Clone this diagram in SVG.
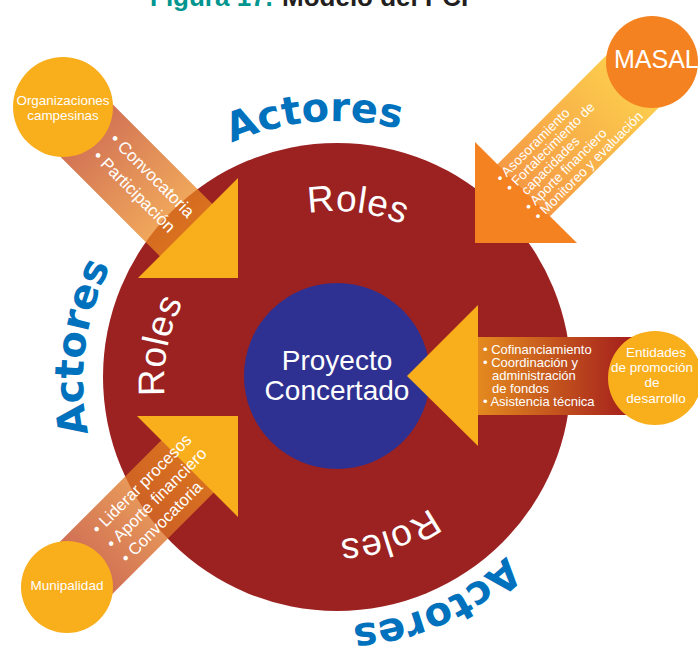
<svg xmlns="http://www.w3.org/2000/svg" width="698" height="648" viewBox="0 0 698 648">
<style>
.w{fill:#fff;font-family:"Liberation Sans",Arial,sans-serif}
.act{fill:#0071BC;font-family:"DejaVu Sans",sans-serif;font-weight:bold;font-size:40px}
.rol{fill:#fff;font-family:"Liberation Sans",Arial,sans-serif;font-size:37px;letter-spacing:0.5px}
.tri{fill:#F9AE1C}
.node{fill:#F9AE1C}
</style>
<defs>
<linearGradient id="gDiag" gradientUnits="userSpaceOnUse" x1="0" y1="0" x2="175" y2="0">
<stop offset="0" stop-color="#BE4636" stop-opacity="0.85"/>
<stop offset="1" stop-color="#F0901E" stop-opacity="0.72"/>
</linearGradient>
<linearGradient id="gMasal" gradientUnits="userSpaceOnUse" x1="0" y1="0" x2="182" y2="0">
<stop offset="0" stop-color="#FDD64E"/>
<stop offset="1" stop-color="#F59A45"/>
</linearGradient>
<linearGradient id="gRight" gradientUnits="userSpaceOnUse" x1="478" y1="0" x2="640" y2="0">
<stop offset="0" stop-color="#E48A1F"/>
<stop offset="1" stop-color="#A0181C"/>
</linearGradient>
<path id="pRolT" d="M 200.2 278.7 A 170 170 0 0 1 492.5 314.6"/>
<path id="pRolL" d="M 222.7 510.4 A 172 172 0 0 1 280.6 218.2"/>
<path id="pRolB" d="M 491.1 411.1 A 158 158 0 0 1 232.3 500.2"/>
<path id="pActT" d="M 100.9 269.9 A 260 260 0 0 1 549.7 233.0"/>
<path id="pActL" d="M 182.0 581.7 A 253 253 0 0 1 239.2 147.3"/>
<path id="pActB" d="M 578.7 406.5 A 244 244 0 0 1 192.6 578.4"/>
</defs>

<g id="title" font-family="'Liberation Sans',Arial,sans-serif" font-weight="bold" font-size="26">
<text x="150" y="6" fill="#00958F">Figura 17.</text>
<text x="282" y="6" fill="#231F20">Modelo del PCI</text>
</g>

<g id="ring">
<circle cx="337" cy="377" r="234" fill="#9B2221"/>
</g>

<g id="core">
<circle cx="337" cy="376" r="93" fill="#2E3192"/>
<text class="w" x="337" y="370" font-size="28" text-anchor="middle">Proyecto</text>
<text class="w" x="337" y="400" font-size="28" text-anchor="middle">Concertado</text>
</g>

<g id="connectors">
<g id="conn-org" transform="translate(63,107) rotate(45)">
<rect x="0" y="-37" width="175" height="74" fill="url(#gDiag)"/>
</g>
<polygon class="tri" points="238,178 238,278 138,278"/>
<g transform="translate(63,107) rotate(45)">
<text class="w" x="56" y="-9" font-size="17">• Convocatoria</text>
<text class="w" x="56" y="15" font-size="17">• Participación</text>
</g>

<g id="conn-mun" transform="translate(67,587) rotate(-45)">
<rect x="0" y="-37" width="172" height="74" fill="url(#gDiag)"/>
</g>
<polygon class="tri" points="137,416 238,416 238,517"/>
<g transform="translate(67,587) rotate(-45)">
<text class="w" x="59" y="-14.5" font-size="16.5">• Liderar procesos</text>
<text class="w" x="59" y="6" font-size="16.5">• Aporte financiero</text>
<text class="w" x="59" y="26.5" font-size="16.5">• Convocatoria</text>
</g>

<g id="conn-masal" transform="translate(652,62) rotate(135)">
<rect x="0" y="-37" width="183" height="74" fill="url(#gMasal)"/>
</g>
<polygon fill="#F58220" points="475,142 475,243 577,243"/>
<g transform="translate(652,62) rotate(-45)" font-size="13.5">
<text class="w" x="-192" y="-21">• Asosoramiento</text>
<text class="w" x="-192" y="-7.5">• Fortalecimiento de</text>
<text class="w" x="-183" y="6">capacidades</text>
<text class="w" x="-192" y="19.5">• Aporte financiero</text>
<text class="w" x="-192" y="33">• Monitoreo y evaluación</text>
</g>

<g id="conn-ent">
<rect x="477" y="337" width="170" height="78" fill="url(#gRight)"/>
<polygon class="tri" points="478,305 478,446 407,376"/>
<g font-size="13">
<text class="w" x="483" y="354">• Cofinanciamiento</text>
<text class="w" x="483" y="367">• Coordinación y</text>
<text class="w" x="492" y="380">administración</text>
<text class="w" x="492" y="393">de fondos</text>
<text class="w" x="483" y="406">• Asistencia técnica</text>
</g>
</g>
</g>

<g id="node-org">
<circle class="node" cx="63" cy="107" r="50"/>
<text class="w" x="63" y="105" font-size="13.4" text-anchor="middle">Organizaciones</text>
<text class="w" x="63" y="120" font-size="13.4" text-anchor="middle">campesinas</text>
</g>

<g id="node-masal">
<circle cx="652" cy="62" r="46" fill="#F58220"/>
<text class="w" x="614" y="68" font-size="25">MASAL</text>
</g>

<g id="node-ent">
<circle class="node" cx="655" cy="378" r="47"/>
<g font-size="13.5" text-anchor="middle">
<text class="w" x="656" y="357">Entidades</text>
<text class="w" x="652" y="372">de promoción</text>
<text class="w" x="652" y="387">de</text>
<text class="w" x="656" y="403">desarrollo</text>
</g>
</g>

<g id="node-mun">
<circle class="node" cx="67" cy="587" r="46"/>
<text class="w" x="67" y="590" font-size="13.5" text-anchor="middle">Munipalidad</text>
</g>

<g id="ring-labels">
<text class="act"><textPath href="#pActT" startOffset="50%" text-anchor="middle">Actores</textPath></text>
<text class="act"><textPath href="#pActL" startOffset="50%" text-anchor="middle">Actores</textPath></text>
<text class="act"><textPath href="#pActB" startOffset="50%" text-anchor="middle">Actores</textPath></text>
<text class="rol"><textPath href="#pRolT" startOffset="50%" text-anchor="middle">Roles</textPath></text>
<text class="rol"><textPath href="#pRolL" startOffset="50%" text-anchor="middle">Roles</textPath></text>
<text class="rol"><textPath href="#pRolB" startOffset="50%" text-anchor="middle">Roles</textPath></text>
</g>
</svg>
